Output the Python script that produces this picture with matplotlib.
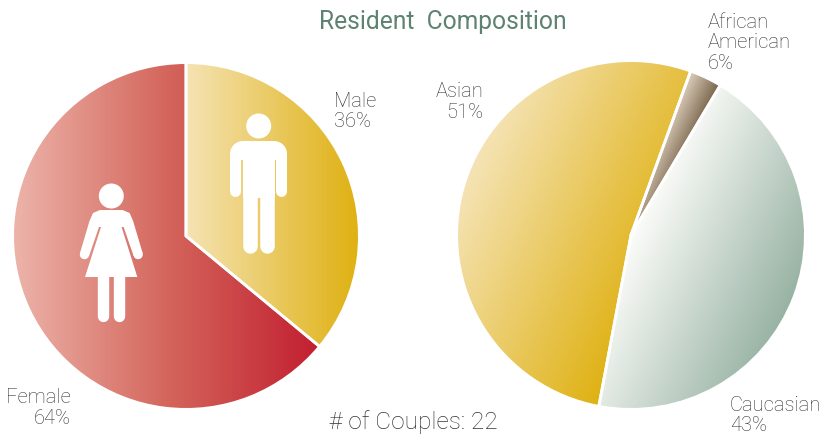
import numpy as np
import matplotlib
matplotlib.use('Agg')
import matplotlib.pyplot as plt
from matplotlib.colors import LinearSegmentedColormap
from matplotlib.patches import Circle, Polygon

# sizes are what the wedges show, the printed labels are kept as in the source
gender_labels = ['Male\n36%', 'Female\n64%']
gender_shares = [36, 64]
gender_colors = [['#f5e3b4', '#dfb112'], ['#ecb3a9', '#d4665c', '#c21f30']]

ethnic_labels = ['African\nAmerican\n6%', 'Caucasian\n43%', 'Asian\n51%']
ethnic_shares = [3.0, 44.4, 52.6]
ethnic_colors = [['#dccdbb', '#78644a'], ['#fcfcf9', '#98b3a4'], ['#f5e3b4', '#dfb112']]

W, H = 823, 437
plt.rcParams['font.family'] = ['Roboto', 'DejaVu Sans']
fig = plt.figure(figsize=(W / 100, H / 100), dpi=100)


def pie_axes(cx, cy, r):
    return fig.add_axes([(cx - r) / W, 1 - (cy + r) / H, 2 * r / W, 2 * r / H])


def gradient_pie(ax, shares, colors, start, tilt):
    # wedges come from pie, each one clips its own gradient image
    wedges, _ = ax.pie(shares, startangle=start, counterclock=False, radius=1,
                       wedgeprops=dict(linewidth=0))
    xx, yy = np.meshgrid(np.linspace(-1, 1, 500), np.linspace(-1, 1, 500))
    for i, w in enumerate(wedges):
        a = np.radians(np.linspace(w.theta1, w.theta2, 80))
        px = np.r_[0, np.cos(a)]
        py = np.r_[0, np.sin(a)]
        t = np.cos(tilt) * xx - np.sin(tilt) * yy
        on = np.cos(tilt) * px - np.sin(tilt) * py
        t = np.clip((t - on.min()) / (on.max() - on.min()), 0, 1)
        cmap = LinearSegmentedColormap.from_list('g', colors[i])
        im = ax.imshow(t, extent=(-1, 1, -1, 1), origin='lower', cmap=cmap,
                       vmin=0, vmax=1, aspect='auto', zorder=2)
        im.set_clip_path(w)
        w.set_facecolor('none')
        # white separator along the two straight edges only
        ax.plot([px[1], 0, px[-1]], [py[1], 0, py[-1]], color='white', lw=2.0, zorder=3)
    ax.set_xlim(-1, 1)
    ax.set_ylim(-1, 1)
    ax.axis('off')


gradient_pie(pie_axes(186, 236, 172), gender_shares, gender_colors, 90, 0.0)
gradient_pie(pie_axes(631, 235, 173), ethnic_shares, ethnic_colors, 70, np.radians(25))

# pixel space overlay for the text and the two figures
ov = fig.add_axes([0, 0, 1, 1])
ov.set_xlim(0, W)
ov.set_ylim(H, 0)
ov.axis('off')


def limb(x0, y0, x1, y1, w):
    ov.plot([x0, x1], [y0, y1], color='white', lw=w * 0.72, solid_capstyle='round', zorder=5)


def shape(pts):
    ov.add_patch(Polygon(pts, closed=True, fc='white', ec='none', zorder=5))


# male figure
ov.add_patch(Circle((258.7, 126), 12.5, fc='white', ec='none', zorder=5))
arc = np.radians(np.linspace(180, 270, 12))
left = [(243 + 13 * np.cos(b), 154 + 13 * np.sin(b)) for b in arc]
right = [(274 - 13 * np.cos(b), 154 + 13 * np.sin(b)) for b in arc[::-1]]
shape(left + right + [(287, 160), (230, 160)])
shape([(243, 158), (275, 158), (275, 198), (243, 198)])
limb(235.5, 158, 235.5, 191, 11)
limb(281.5, 158, 281.5, 191, 11)
limb(250.2, 198, 250.2, 246, 14.5)
limb(267.5, 198, 267.5, 246, 14.5)

# female figure
ov.add_patch(Circle((111.3, 196), 12.5, fc='white', ec='none', zorder=5))
half = [(100, 210), (93, 213), (89.5, 221), (80, 253), (89, 256), (99, 227)]
shape(half + [(222.6 - x, y) for x, y in half[::-1]])
shape([(101, 227), (121.6, 227), (137.3, 277), (85, 277)])
ov.add_patch(Circle((84.5, 254.5), 4.7, fc='white', ec='none', zorder=5))
ov.add_patch(Circle((138.1, 254.5), 4.7, fc='white', ec='none', zorder=5))
limb(103.3, 277, 103.3, 316, 11.4)
limb(119, 277, 119, 316, 11.4)

grey = '#333333'
txt = dict(color=grey, fontsize=14.5, fontweight='light', linespacing=1.1, va='center')
ov.text(334, 111.5, gender_labels[0], ha='left', **txt)
ov.text(71, 408, gender_labels[1], ha='right', multialignment='right', **txt)
ov.text(708, 43, ethnic_labels[0], ha='left', **txt)
ov.text(730, 415.5, ethnic_labels[1], ha='left', **txt)
ov.text(483, 102, ethnic_labels[2], ha='right', multialignment='right', **txt)
ov.text(413, 422, '# of Couples: 22', ha='center', va='center', color=grey, fontsize=17.6, fontweight='light')
ov.text(443, 22, 'Resident  Composition', ha='center', va='center', color='#5d8272',
        fontsize=17.7, fontweight='normal')

fig.savefig('out.png', dpi=100)
